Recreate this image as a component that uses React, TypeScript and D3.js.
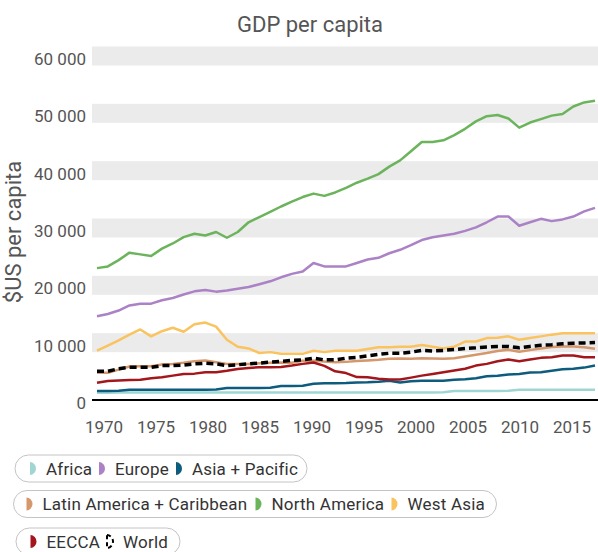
import React from 'react';
import * as d3 from 'd3';

const years: number[] = d3.range(1970, 2017);
const yTicks = [0, 10000, 20000, 30000, 40000, 50000, 60000];
const xTicks = [1970, 1975, 1980, 1985, 1990, 1995, 2000, 2005, 2010, 2015];

const africa = [
  1250, 1250, 1300, 1300, 1300, 1300, 1300, 1300, 1300, 1300,
  1300, 1300, 1300, 1300, 1300, 1300, 1300, 1300, 1300, 1300,
  1300, 1300, 1300, 1300, 1300, 1300, 1300, 1300, 1300, 1300,
  1300, 1300, 1350, 1550, 1550, 1550, 1550, 1550, 1600, 1800,
  1800, 1800, 1800, 1800, 1800, 1800, 1800,
];
const europe = [
  14600, 15000, 15600, 16500, 16800, 16800, 17400, 17800, 18400, 18950,
  19200, 18900, 19100, 19400, 19700, 20200, 20700, 21400, 22000, 22400,
  23900, 23300, 23300, 23300, 23900, 24500, 24800, 25600, 26200, 27000,
  27900, 28400, 28700, 29000, 29500, 30100, 31000, 32000, 32000, 30400,
  31000, 31600, 31200, 31500, 32000, 32900, 33500,
];
const asiaPacific = [
  1550, 1550, 1600, 1800, 1800, 1800, 1800, 1800, 1800, 1800,
  1800, 1850, 2100, 2100, 2100, 2100, 2150, 2450, 2450, 2500,
  2850, 2900, 2900, 2950, 3050, 3100, 3200, 3350, 3050, 3250,
  3350, 3350, 3350, 3550, 3600, 3800, 4150, 4250, 4450, 4550,
  4800, 4850, 5100, 5350, 5450, 5650, 6000,
];
const latinAmerica = [
  4750, 4750, 5300, 5850, 5900, 5900, 6200, 6300, 6500, 6750,
  6900, 6600, 6300, 6300, 6300, 6400, 6500, 6550, 6500, 6850,
  6850, 6700, 6600, 6650, 6800, 6900, 7000, 7200, 7250, 7200,
  7300, 7250, 7200, 7300, 7600, 7900, 8200, 8550, 8750, 8400,
  8700, 9000, 9250, 9350, 9350, 9200, 8950,
];
const northAmerica = [
  23000, 23300, 24400, 25700, 25400, 25100, 26400, 27300, 28400, 29000,
  28700, 29300, 28300, 29300, 31000, 31900, 32800, 33750, 34600, 35400,
  36000, 35600, 36200, 37000, 37900, 38600, 39400, 40700, 41800, 43400,
  45000, 45000, 45300, 46200, 47300, 48600, 49500, 49700, 49100, 47500,
  48400, 49000, 49600, 49900, 51200, 51900, 52200,
];
const westAsia = [
  8600, 9500, 10400, 11400, 12300, 11100, 12000, 12600, 11900, 13200,
  13500, 12800, 10500, 9300, 9000, 8200, 8350, 8050, 8050, 8050,
  8600, 8350, 8600, 8600, 8600, 8900, 9200, 9200, 9300, 9300,
  9600, 9300, 9000, 9300, 10200, 10200, 10800, 10850, 11100, 10500,
  10800, 11100, 11400, 11650, 11650, 11650, 11650,
];
const eecca = [
  3000, 3300, 3400, 3500, 3550, 3800, 3950, 4250, 4550, 4600,
  4850, 4850, 5100, 5400, 5600, 5700, 5700, 5750, 6000, 6300,
  6550, 5950, 5000, 4700, 4000, 3950, 3700, 3580, 3580, 3900,
  4250, 4550, 4850, 5150, 5450, 6000, 6300, 6750, 7050, 6750,
  7050, 7350, 7450, 7750, 7750, 7450, 7450,
];
const world = [
  5000, 5000, 5450, 5700, 5700, 5700, 6000, 6000, 6100, 6300,
  6400, 6300, 6000, 6150, 6300, 6450, 6600, 6750, 6900, 7000,
  7300, 7000, 7000, 7300, 7450, 7700, 7950, 8150, 8150, 8350,
  8650, 8550, 8650, 8800, 9000, 9100, 9250, 9350, 9350, 9100,
  9350, 9550, 9650, 9800, 9900, 9950, 10050,
];

const series = [
  { name: 'Africa', color: '#9fd6d4', values: africa, dashed: false },
  { name: 'Europe', color: '#ab82c5', values: europe, dashed: false },
  { name: 'Asia + Pacific', color: '#0d5b7d', values: asiaPacific, dashed: false },
  { name: 'Latin America + Caribbean', color: '#d5976c', values: latinAmerica, dashed: false },
  { name: 'North America', color: '#6bb45b', values: northAmerica, dashed: false },
  { name: 'West Asia', color: '#fac35f', values: westAsia, dashed: false },
  { name: 'EECCA', color: '#a3161c', values: eecca, dashed: false },
  { name: 'World', color: '#000000', values: world, dashed: true },
];

const legendRows = [
  { box: [15, 455, 292], items: [[0, 30], [1, 99], [2, 176]] },
  { box: [13.5, 490.5, 483], items: [[3, 26.5], [4, 255.5], [5, 391.5]] },
  { box: [16, 528, 164], items: [[6, 30.5], [7, 107]] },
];

const fmt = d3.formatLocale({ decimal: '.', thousands: ' ', grouping: [3], currency: ['$', ''] }).format(',');

export default function App() {
  const W = 598;
  const H = 552;
  const x = d3.scaleLinear().domain([1970, 2016]).range([97, 595]);
  const xLabel = d3.scaleLinear().domain([1970, 2015]).range([104, 572]);
  const y = d3.scaleLinear().domain([0, 60000]).range([400, 56]);
  const line = d3
    .line<number>()
    .x((_, i) => x(years[i]))
    .y((d) => y(d));
  const font = 'Roboto, "Noto Sans", sans-serif';

  const iconPath = (ix: number, cy: number) =>
    `M${ix},${cy - 6.5} A6 6.5 0 0 1 ${ix},${cy + 6.5} Z`;

  return (
    <svg
      width={W}
      height={H}
      style={{ position: 'absolute', left: 0, top: 0, background: '#fff' }}
      fontFamily={font}
    >
      <rect width={W} height={H} fill="#fff" />
      <text x={310} y={32} textAnchor="middle" fontSize={22} fill="#555">
        GDP per capita
      </text>
      {yTicks
        .filter((t) => t > 0)
        .map((t) => (
          <rect key={'b' + t} x={92} y={y(t) - 9.5} width={W - 92} height={19} fill="#ebebeb" />
        ))}
      {yTicks.map((t) => (
        <text key={'yt' + t} x={86} y={y(t) + 9} textAnchor="end" fontSize={17} fill="#555">
          {fmt(t)}
        </text>
      ))}
      <text
        transform={`translate(21, 232) rotate(-90)`}
        textAnchor="middle"
        fontSize={22}
        fill="#555"
      >
        $US per capita
      </text>
      <line x1={92} x2={W} y1={y(0)} y2={y(0)} stroke="#000" strokeWidth={2} />
      {xTicks.map((t) => (
        <text key={'xt' + t} x={xLabel(t)} y={433} textAnchor="middle" fontSize={17} fill="#555">
          {t}
        </text>
      ))}
      {series.map((s) => (
        <path
          key={s.name}
          d={line(s.values) || ''}
          fill="none"
          stroke={s.color}
          strokeWidth={s.dashed ? 3.5 : 2.5}
          strokeDasharray={s.dashed ? '7,4' : undefined}
          strokeLinejoin="round"
        />
      ))}
      {legendRows.map((row, ri) => {
        const [bx, by, bw] = row.box;
        const cy = by + 13.5;
        return (
          <g key={'lr' + ri}>
            <rect x={bx} y={by} width={bw} height={27} rx={13.5} ry={13.5} fill="#fff" stroke="#c4c4c4" strokeWidth={1} />
            {row.items.map(([si, ix]) => {
              const s = series[si];
              return (
                <g key={s.name}>
                  {s.dashed ? (
                    <path d={iconPath(ix, cy)} fill="none" stroke="#000" strokeWidth={2} strokeDasharray="4,3" />
                  ) : (
                    <path d={iconPath(ix, cy)} fill={s.color} />
                  )}
                  <text x={ix + 16} y={cy + 6} fontSize={17} fill="#333" letterSpacing={0.2}>
                    {s.name}
                  </text>
                </g>
              );
            })}
          </g>
        );
      })}
    </svg>
  );
}
